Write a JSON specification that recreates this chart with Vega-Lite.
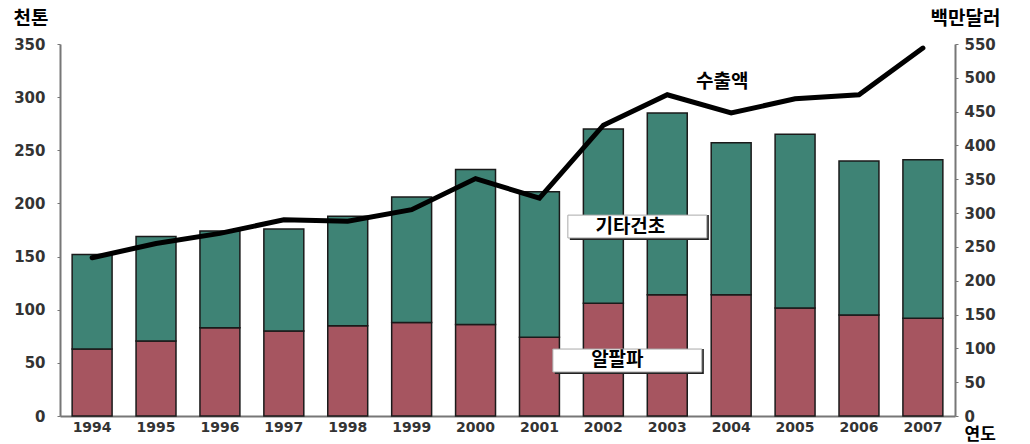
{
  "$schema": "https://vega.github.io/schema/vega-lite/v6.json",
  "width": 895,
  "height": 372,
  "autosize": {"type": "none"},
  "padding": {"left": 60, "top": 44, "right": 75, "bottom": 28},
  "background": "white",
  "config": {
    "view": {"stroke": null},
    "font": "DejaVu Sans",
    "axis": {"grid": false, "labelFont": "DejaVu Sans", "labelFontWeight": "bold", "labelColor": "#333333", "domainColor": "#777777", "domainWidth": 2, "tickColor": "#777777", "labelOverlap": false}
  },
  "datasets": {
    "bars": [
      {"year": "1994", "type": "알팔파", "value": 63},
      {"year": "1994", "type": "기타건초", "value": 89},
      {"year": "1995", "type": "알팔파", "value": 70.5},
      {"year": "1995", "type": "기타건초", "value": 98.5},
      {"year": "1996", "type": "알팔파", "value": 83},
      {"year": "1996", "type": "기타건초", "value": 91},
      {"year": "1997", "type": "알팔파", "value": 80},
      {"year": "1997", "type": "기타건초", "value": 96},
      {"year": "1998", "type": "알팔파", "value": 85},
      {"year": "1998", "type": "기타건초", "value": 103},
      {"year": "1999", "type": "알팔파", "value": 88},
      {"year": "1999", "type": "기타건초", "value": 118},
      {"year": "2000", "type": "알팔파", "value": 86},
      {"year": "2000", "type": "기타건초", "value": 146},
      {"year": "2001", "type": "알팔파", "value": 74},
      {"year": "2001", "type": "기타건초", "value": 137},
      {"year": "2002", "type": "알팔파", "value": 106},
      {"year": "2002", "type": "기타건초", "value": 164},
      {"year": "2003", "type": "알팔파", "value": 114},
      {"year": "2003", "type": "기타건초", "value": 171},
      {"year": "2004", "type": "알팔파", "value": 114},
      {"year": "2004", "type": "기타건초", "value": 143},
      {"year": "2005", "type": "알팔파", "value": 101.5},
      {"year": "2005", "type": "기타건초", "value": 163.5},
      {"year": "2006", "type": "알팔파", "value": 95},
      {"year": "2006", "type": "기타건초", "value": 145},
      {"year": "2007", "type": "알팔파", "value": 92},
      {"year": "2007", "type": "기타건초", "value": 149}
    ],
    "exports": [
      {"year": "1994", "amount": 234},
      {"year": "1995", "amount": 255},
      {"year": "1996", "amount": 270},
      {"year": "1997", "amount": 290},
      {"year": "1998", "amount": 288},
      {"year": "1999", "amount": 305},
      {"year": "2000", "amount": 351},
      {"year": "2001", "amount": 322},
      {"year": "2002", "amount": 430},
      {"year": "2003", "amount": 475},
      {"year": "2004", "amount": 448},
      {"year": "2005", "amount": 469},
      {"year": "2006", "amount": 475},
      {"year": "2007", "amount": 544}
    ]
  },
  "encoding": {
    "x": {
      "field": "year", "type": "nominal",
      "scale": {"paddingInner": 0.375, "paddingOuter": 0.19},
      "axis": {"title": "연도", "labelAngle": 0, "labelFontSize": 14, "labelPadding": 4, "ticks": false, "titleAngle": 0, "titleAlign": "left", "titleBaseline": "middle", "titleX": 904, "titleY": 18, "titleFont": "Noto Sans CJK KR", "titleFontSize": 17, "titleFontWeight": "bold", "titleColor": "#000000"}
    }
  },
  "layer": [
    {
      "layer": [
        {
          "data": {"name": "bars"},
          "mark": {"type": "bar", "stroke": "#1a1a1a", "strokeWidth": 1.5},
          "encoding": {
            "y": {"field": "value", "type": "quantitative", "stack": "zero",
              "scale": {"domain": [0, 350], "nice": false},
              "axis": {"title": "천톤", "values": [0, 50, 100, 150, 200, 250, 300, 350], "labelOverlap": false, "labelFontSize": 15, "labelPadding": 12, "tickSize": 3, "titleAngle": 0, "titleAlign": "left", "titleBaseline": "middle", "titleX": -47, "titleY": -26, "titleFont": "Noto Sans CJK KR", "titleFontSize": 19, "titleFontWeight": "bold", "titleColor": "#000000"}},
            "color": {"field": "type", "type": "nominal", "scale": {"domain": ["알팔파", "기타건초"], "range": ["#A65560", "#3E8375"]}, "legend": null},
            "order": {"field": "type", "sort": "descending"}
          }
        },
        {
          "data": {"values": [{"year": "2002", "lo": 167.5, "hi": 189}]},
          "mark": {"type": "bar", "width": 139, "xOffset": 36, "yOffset": 2, "fill": "#222222"},
          "encoding": {"y": {"field": "lo", "type": "quantitative"}, "y2": {"field": "hi"}}
        },
        {
          "data": {"values": [{"year": "2002", "lo": 167.5, "hi": 189}]},
          "mark": {"type": "bar", "width": 139, "xOffset": 34, "fill": "white", "stroke": "#aaaaaa", "strokeWidth": 1},
          "encoding": {"y": {"field": "lo", "type": "quantitative"}, "y2": {"field": "hi"}}
        },
        {
          "data": {"values": [{"year": "2002", "lo": 41.4, "hi": 63}]},
          "mark": {"type": "bar", "width": 149, "xOffset": 26, "yOffset": 2, "fill": "#222222"},
          "encoding": {"y": {"field": "lo", "type": "quantitative"}, "y2": {"field": "hi"}}
        },
        {
          "data": {"values": [{"year": "2002", "lo": 41.4, "hi": 63}]},
          "mark": {"type": "bar", "width": 149, "xOffset": 24, "fill": "white", "stroke": "#aaaaaa", "strokeWidth": 1},
          "encoding": {"y": {"field": "lo", "type": "quantitative"}, "y2": {"field": "hi"}}
        },
        {
          "data": {"values": [{"year": "2002", "pos": 178, "label": "기타건초"}]},
          "mark": {"type": "text", "xOffset": 27, "font": "Noto Sans CJK KR", "fontWeight": "bold", "fontSize": 19, "baseline": "middle", "align": "center", "color": "#000000"},
          "encoding": {"y": {"field": "pos", "type": "quantitative"}, "text": {"field": "label"}}
        },
        {
          "data": {"values": [{"year": "2002", "pos": 52.5, "label": "알팔파"}]},
          "mark": {"type": "text", "xOffset": 14, "font": "Noto Sans CJK KR", "fontWeight": "bold", "fontSize": 19, "baseline": "middle", "align": "center", "color": "#000000"},
          "encoding": {"y": {"field": "pos", "type": "quantitative"}, "text": {"field": "label"}}
        }
      ]
    },
    {
      "layer": [
        {
          "data": {"name": "exports"},
          "mark": {"type": "line", "color": "#000000", "strokeWidth": 5, "strokeJoin": "miter", "strokeCap": "round"},
          "encoding": {
            "y": {"field": "amount", "type": "quantitative",
              "scale": {"domain": [0, 550], "nice": false},
              "axis": {"orient": "right", "title": "백만달러", "values": [0, 50, 100, 150, 200, 250, 300, 350, 400, 450, 500, 550], "labelOverlap": false, "labelFontSize": 15, "labelPadding": 6, "tickSize": 3, "titleAngle": 0, "titleAlign": "left", "titleBaseline": "middle", "titleX": -25, "titleY": -26, "titleFont": "Noto Sans CJK KR", "titleFontSize": 19, "titleFontWeight": "bold", "titleColor": "#000000"}}
          }
        },
        {
          "data": {"values": [{"year": "2004", "pos": 494, "label": "수출액"}]},
          "mark": {"type": "text", "xOffset": -9, "font": "Noto Sans CJK KR", "fontWeight": "bold", "fontSize": 19, "baseline": "middle", "align": "center", "color": "#000000"},
          "encoding": {
            "y": {"field": "pos", "type": "quantitative",
              "axis": {"orient": "right", "title": "백만달러", "values": [0, 50, 100, 150, 200, 250, 300, 350, 400, 450, 500, 550], "labelOverlap": false, "labelFontSize": 15, "labelPadding": 6, "tickSize": 3, "titleAngle": 0, "titleAlign": "left", "titleBaseline": "middle", "titleX": -25, "titleY": -26, "titleFont": "Noto Sans CJK KR", "titleFontSize": 19, "titleFontWeight": "bold", "titleColor": "#000000"}},
            "text": {"field": "label"}
          }
        }
      ]
    }
  ],
  "resolve": {"scale": {"y": "independent"}}
}
